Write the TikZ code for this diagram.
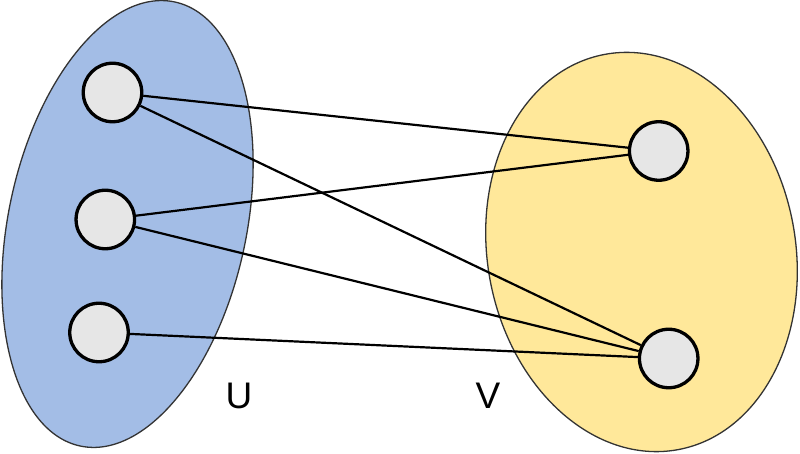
\documentclass[tikz,border=0pt]{standalone}
\usepackage{fontspec}
\setmainfont{Liberation Sans}
\definecolor{setblue}{HTML}{A3BDE6}
\definecolor{setyellow}{HTML}{FFE89A}
\definecolor{vertexgray}{HTML}{E6E6E6}
\begin{document}
\begin{tikzpicture}
  [x=1pt, y=1pt]
  \tikzstyle{set} = [draw=black!80, line width=1.3pt];
  \tikzstyle{vertex} = [circle, draw=black, line width=3.3pt, fill=vertexgray, minimum size=58.5pt, inner sep=0pt];
  \tikzstyle{edge} = [draw=black, line width=2.2pt];
  \tikzstyle{setlabel} = [font=\fontsize{37}{37}\selectfont, inner sep=0pt];

  \useasboundingbox (0, 0) rectangle (800, 454);

  \fill[setblue, rotate around={-12:(127.5, 230)}] (127.5, 230) ellipse [x radius=119, y radius=227];
  \draw[set, rotate around={-12:(127.5, 230)}] (127.5, 230) ellipse [x radius=119, y radius=227];

  \fill[setyellow, rotate around={10.5:(641.5, 202)}] (641.5, 202) ellipse [x radius=154, y radius=201];
  \draw[set, rotate around={10.5:(641.5, 202)}] (641.5, 202) ellipse [x radius=154, y radius=201];

  \node[vertex] (u1) at (112.5, 361.5) {};
  \node[vertex] (u2) at (105.3, 234.5) {};
  \node[vertex] (u3) at (99, 121.5) {};

  \node[vertex] (v1) at (658.7, 303) {};
  \node[vertex] (v2) at (668.7, 95.5) {};

  \path[edge] (u1) -- (v1);
  \path[edge] (u1) -- (v2);
  \path[edge] (u2) -- (v1);
  \path[edge] (u2) -- (v2);
  \path[edge] (u3) -- (v2);

  \node[setlabel] (labu) at (239, 58.5) {U};
  \node[setlabel] (labv) at (488, 58.5) {V};

\end{tikzpicture}
\end{document}
